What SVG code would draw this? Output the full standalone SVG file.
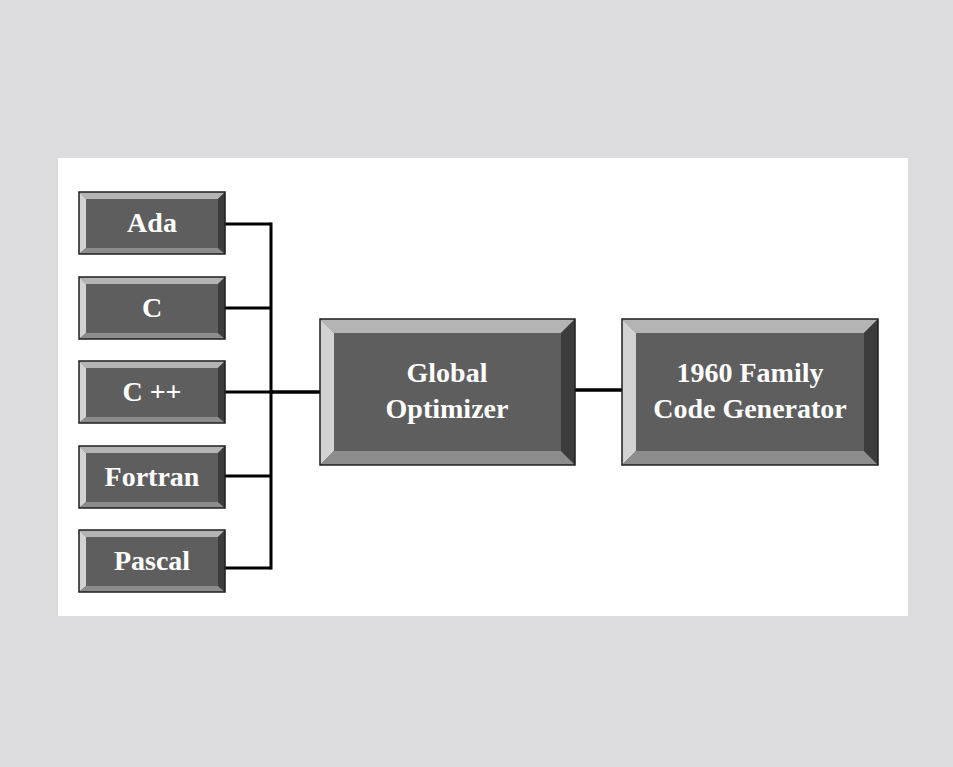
<svg xmlns="http://www.w3.org/2000/svg" width="953" height="767" viewBox="0 0 953 767">
<defs>
<style>
.face{fill:#5e5e5e}
.bt{fill:#b4b4b4}
.bl{fill:#d2d2d2}
.bb{fill:#8c8c8c}
.br{fill:#3c3c3c}
.edge{fill:none;stroke:#1e1e1e;stroke-width:1.5}
.lbl{font-family:"Liberation Serif","Times New Roman",serif;font-weight:bold;font-size:28px;fill:#ffffff;text-anchor:middle}
.conn{stroke:#000;fill:none}
</style>
</defs>
<rect width="953" height="767" fill="#dcdcde"/>
<rect x="58" y="158" width="850" height="458" fill="#ffffff"/>

<g id="connectors">
<path class="conn" stroke-width="3" d="M225 224H271M225 308H271M225 392H271M225 476H271M225 568H271"/>
<path class="conn" stroke-width="3" d="M271 222.5V569.5"/>
<path class="conn" stroke-width="3.5" d="M271 392H320"/>
<path class="conn" stroke-width="3.5" d="M575 390H622"/>
</g>

<g id="ada">
<rect class="face" x="79" y="192" width="146" height="62"/>
<polygon class="bt" points="79,192 225,192 218,199 86,199"/>
<polygon class="bl" points="79,192 86,199 86,248 79,254"/>
<polygon class="bb" points="79,254 86,248 218,248 225,254"/>
<polygon class="br" points="225,192 225,254 218,248 218,199"/>
<rect class="edge" x="79" y="192" width="146" height="62"/>
<text class="lbl" x="152" y="232">Ada</text>
</g>

<g id="c">
<rect class="face" x="79" y="277" width="146" height="62"/>
<polygon class="bt" points="79,277 225,277 218,284 86,284"/>
<polygon class="bl" points="79,277 86,284 86,333 79,339"/>
<polygon class="bb" points="79,339 86,333 218,333 225,339"/>
<polygon class="br" points="225,277 225,339 218,333 218,284"/>
<rect class="edge" x="79" y="277" width="146" height="62"/>
<text class="lbl" x="152" y="317">C</text>
</g>

<g id="cpp">
<rect class="face" x="79" y="361" width="146" height="62"/>
<polygon class="bt" points="79,361 225,361 218,368 86,368"/>
<polygon class="bl" points="79,361 86,368 86,417 79,423"/>
<polygon class="bb" points="79,423 86,417 218,417 225,423"/>
<polygon class="br" points="225,361 225,423 218,417 218,368"/>
<rect class="edge" x="79" y="361" width="146" height="62"/>
<text class="lbl" x="152" y="401">C ++</text>
</g>

<g id="fortran">
<rect class="face" x="79" y="446" width="146" height="62"/>
<polygon class="bt" points="79,446 225,446 218,453 86,453"/>
<polygon class="bl" points="79,446 86,453 86,502 79,508"/>
<polygon class="bb" points="79,508 86,502 218,502 225,508"/>
<polygon class="br" points="225,446 225,508 218,502 218,453"/>
<rect class="edge" x="79" y="446" width="146" height="62"/>
<text class="lbl" x="152" y="486">Fortran</text>
</g>

<g id="pascal">
<rect class="face" x="79" y="530" width="146" height="62"/>
<polygon class="bt" points="79,530 225,530 218,537 86,537"/>
<polygon class="bl" points="79,530 86,537 86,586 79,592"/>
<polygon class="bb" points="79,592 86,586 218,586 225,592"/>
<polygon class="br" points="225,530 225,592 218,586 218,537"/>
<rect class="edge" x="79" y="530" width="146" height="62"/>
<text class="lbl" x="152" y="570">Pascal</text>
</g>

<g id="optimizer">
<rect class="face" x="320" y="319" width="255" height="146"/>
<polygon class="bt" points="320,319 575,319 561,333 334,333"/>
<polygon class="bl" points="320,319 334,333 334,451 320,465"/>
<polygon class="bb" points="320,465 334,451 561,451 575,465"/>
<polygon class="br" points="575,319 575,465 561,451 561,333"/>
<rect class="edge" x="320" y="319" width="255" height="146"/>
<text class="lbl" x="447" y="382">Global</text>
<text class="lbl" x="447" y="418">Optimizer</text>
</g>

<g id="codegen">
<rect class="face" x="622" y="319" width="256" height="146"/>
<polygon class="bt" points="622,319 878,319 864,333 636,333"/>
<polygon class="bl" points="622,319 636,333 636,451 622,465"/>
<polygon class="bb" points="622,465 636,451 864,451 878,465"/>
<polygon class="br" points="878,319 878,465 864,451 864,333"/>
<rect class="edge" x="622" y="319" width="256" height="146"/>
<text class="lbl" x="750" y="382">1960 Family</text>
<text class="lbl" x="750" y="418">Code Generator</text>
</g>
</svg>
